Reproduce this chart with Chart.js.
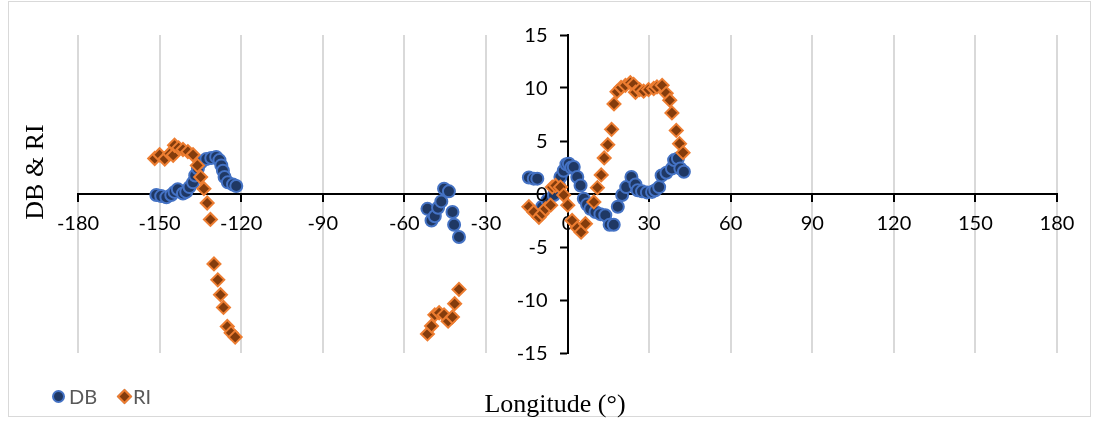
<!DOCTYPE html>
<html>
<head>
<meta charset="utf-8">
<script src="https://cdn.jsdelivr.net/npm/chart.js@4/dist/chart.umd.min.js"></script>
<style>
  body { margin: 0; background: #fff; }
  #wrap { position: relative; width: 1099px; height: 421px; }
  #frame { position: absolute; left: 8px; top: 1px; width: 1083px; height: 416px; border: 1px solid #d9d9d9; box-sizing: border-box; }
  #ytitle { position: absolute; left: 35px; top: 172px; transform: translate(-50%, -50%) rotate(-90deg); font: 26px "Liberation Serif", serif; white-space: nowrap; color: #000; }
  #xtitle { position: absolute; left: 555px; top: 404px; transform: translate(-50%, -50%); font: 26px "Liberation Serif", serif; white-space: nowrap; color: #000; }
  .leg { position: absolute; top: 396px; transform: translateY(-50%); font: 20px Lato, sans-serif; color: #595959; }
  .mk { position: absolute; top: 396px; }
  #mkdb { left: 52px; margin-top: -6px; width: 9px; height: 9px; border-radius: 50%; background: #1f3864; border: 2px solid #4472c4; }
  #mkri { left: 119px; margin-top: -5px; width: 7px; height: 7px; transform: rotate(45deg); background: #843c0c; border: 2px solid #ed7d31; }
</style>
</head>
<body>
<div id="wrap">
  <canvas id="chart" width="1099" height="421"></canvas>
  <div id="frame"></div>
  <div id="ytitle">DB &amp; RI</div>
  <div id="xtitle">Longitude (°)</div>
  <div class="mk" id="mkdb"></div><div class="leg" style="left:69px">DB</div>
  <div class="mk" id="mkri"></div><div class="leg" style="left:133px">RI</div>
</div>
<script>
// values
const dbLon = [-151.2, -149.4, -147.5, -145.7, -144.5, -143.3, -141.4, -140.2, -139, -137.7, -136.9, -135.9, -134.7, -132.8, -131, -129.2, -128, -127.3, -126.7, -126.1, -124.9, -123, -121.8,
  -51.5, -50, -48.8, -47.6, -46.4, -45.4, -43.6, -42.3, -41.7, -39.9,
  -14.2, -12.4, -11.1, -9.3, -7.4, -5, -3.2, -2.6, -1.4, -0.4, 0.5, 1.4, 2.3, 3.6, 4.8, 6, 7.2, 8.4, 10.3, 12.1, 13.9, 15.5, 17, 18.5, 20.1, 21.6, 23.5, 25, 25.8, 27.4, 29.2, 31.1, 32.3, 33.7, 34.6, 36.4, 38.4, 39.2, 40.6, 41.5, 42.8];
const dbVal = [-0.1, -0.2, -0.3, -0.1, 0.2, 0.45, 0.05, 0.2, 0.65, 1.1, 1.75, 2.4, 3.0, 3.3, 3.4, 3.5, 3.2, 2.7, 2.2, 1.6, 1.1, 0.9, 0.75,
  -1.4, -2.5, -2.1, -1.3, -0.7, 0.5, 0.25, -1.7, -2.9, -4.05,
  1.55, 1.45, 1.45, -1.2, -0.6, -0.1, 0.8, 1.6, 2.2, 2.8, 2.85, 2.5, 2.55, 1.6, 0.8, -0.45, -1.0, -1.4, -1.7, -1.9, -2.0, -2.9, -2.9, -1.2, -0.1, 0.65, 1.6, 0.9, 0.35, 0.25, 0.15, 0.2, 0.35, 0.65, 1.75, 2.0, 2.4, 3.2, 3.35, 2.4, 2.1];

const riLon = [-151.8, -150, -148.1, -146.3, -145, -144.5, -143, -141.4, -139.6, -137.7, -136.1, -134.9, -133.7, -132.5, -131.3, -130, -128.6, -127.6, -126.5, -125.1, -123.7, -122.2,
  -51.5, -50, -48.8, -47.2, -45.4, -43.9, -42.3, -41.5, -39.9,
  -14.2, -12.4, -10.5, -9.3, -8.1, -6.2, -5.6, -4.4, -2.6, -1.4, 0.1, 1.7, 3.6, 5.0, 6.6, 9.7, 11.0, 12.4, 13.5, 14.8, 16.2, 17.1, 18.2, 19.7, 21.3, 23.1, 24.3, 25, 26.5, 28, 29.8, 31.7, 32.9, 34.8, 36.3, 37.6, 38.4, 40, 41.2, 42.5];
const riVal = [3.35, 3.7, 3.3, 3.8, 3.65, 4.6, 4.35, 4.2, 4.0, 3.7, 2.7, 1.6, 0.5, -0.85, -2.4, -6.6, -8.1, -9.5, -10.7, -12.5, -13.1, -13.5,
  -13.2, -12.45, -11.4, -11.2, -11.4, -12.0, -11.6, -10.35, -9.0,
  -1.2, -1.7, -2.2, -1.85, -1.4, -1.05, 0.65, 0.8, 0.65, -0.1, -1.05, -2.5, -3.2, -3.6, -2.8, -0.75, 0.6, 1.8, 3.4, 4.65, 6.1, 8.5, 9.65, 10.05, 10.25, 10.5, 10.35, 9.6, 9.85, 9.7, 9.85, 9.95, 10.1, 10.25, 9.5, 8.85, 7.65, 6.0, 4.75, 3.9];

const xTicks = [-180, -150, -120, -90, -60, -30, 0, 30, 60, 90, 120, 150, 180];
const yTicks = [-15, -10, -5, 0, 5, 10, 15];

const toPoints = (xs, ys) => xs.map((x, i) => ({ x: x, y: ys[i] }));

const tickFont = { family: 'Lato', size: 20 };

// y labels sit left of the centred y axis; chart.js puts them on the line, so draw them here
const yLabelPlugin = {
    id: 'yLabels',
    afterDraw(chart) {
        const ctx = chart.ctx;
        const y = chart.scales.y;
        const x0 = chart.scales.x.getPixelForValue(0);
        ctx.save();
        ctx.font = '20px Lato';
        ctx.fillStyle = '#000';
        ctx.textAlign = 'right';
        ctx.textBaseline = 'middle';
        y.ticks.forEach(t => ctx.fillText(String(t.value), x0 - 20, y.getPixelForValue(t.value) + 1));
        ctx.restore();
    }
};

new Chart(document.getElementById('chart'), {
    type: 'scatter',
    data: {
        datasets: [
            {
                label: 'DB',
                data: toPoints(dbLon, dbVal),
                pointStyle: 'circle',
                pointRadius: 6,
                backgroundColor: '#1f3864',
                borderColor: '#4472c4',
                borderWidth: 2,
                order: 2
            },
            {
                label: 'RI',
                data: toPoints(riLon, riVal),
                pointStyle: 'rectRot',
                pointRadius: 6.5,
                backgroundColor: '#843c0c',
                borderColor: '#ed7d31',
                borderWidth: 2,
                order: 1
            }
        ]
    },
    plugins: [yLabelPlugin],
    options: {
        responsive: false,
        animation: false,
        devicePixelRatio: 1,
        layout: { padding: { left: 78, right: 42, top: 35, bottom: 68 } },
        plugins: { legend: { display: false }, tooltip: { enabled: false } },
        scales: {
            x: {
                type: 'linear',
                position: { y: 0 },
                min: -180,
                max: 180,
                afterBuildTicks: (s) => { s.ticks = xTicks.map(v => ({ value: v })); },
                ticks: { font: tickFont, color: '#000', padding: 11, maxRotation: 0, autoSkip: false },
                grid: { color: '#d9d9d9', lineWidth: 2, tickColor: '#000', tickLength: 7, tickWidth: 2 },
                border: { color: '#000', width: 2 }
            },
            y: {
                type: 'linear',
                position: { x: 0 },
                min: -15,
                max: 15,
                afterBuildTicks: (s) => { s.ticks = yTicks.map(v => ({ value: v })); },
                ticks: { display: false },
                grid: { drawOnChartArea: false, tickColor: '#000', tickLength: 7, tickWidth: 2 },
                border: { color: '#000', width: 2 }
            }
        }
    }
});
</script>
</body>
</html>
